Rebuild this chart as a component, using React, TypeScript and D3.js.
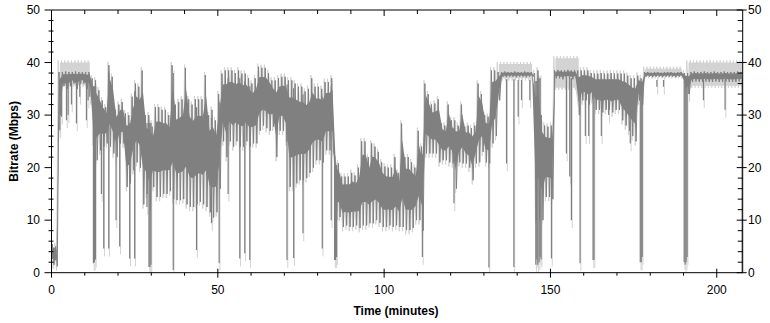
import React from 'react';
import * as d3 from 'd3';

// Per-minute envelope of the dark (average) bitrate trace, Mbps
const darkHi = [
  5.5, 5.0, 38.2, 38.2, 38.3, 38.2, 38.2, 38.3, 38.2, 38.2,
  38.2, 38.2, 37, 36.6, 34.7, 32.8, 31.5, 39.5, 37.3, 31,
  32, 32.5, 30.3, 30, 33.5, 36, 35.4, 38.5, 30, 30,
  27.8, 31.5, 31.5, 31, 31, 30, 39.5, 32, 32.5, 33,
  39, 33, 32, 33, 33, 33, 37.6, 30, 31, 29,
  34, 37.9, 38.5, 38.5, 38.5, 38, 38.5, 37.9, 37.9, 37,
  36, 37, 39.2, 39, 39, 38, 36.6, 36.6, 37, 37.3,
  37.3, 36.6, 36.6, 36, 35.4, 35.4, 34.5, 35, 37, 35.4,
  35.4, 35, 36.3, 36.3, 37, 22, 20.8, 18.3, 18.3, 18.3,
  19, 18.5, 20, 25, 25, 22, 24.6, 24, 23, 21,
  20.2, 20, 20, 22, 19, 28.4, 22, 22, 21, 20,
  27, 24, 36, 34, 32, 32.2, 33, 28.4, 28, 32,
  29, 29, 28, 32, 27.8, 28, 27.5, 28, 36, 34,
  30, 29.7, 38.5, 38.5, 38.2, 38.2, 38.3, 38.2, 38.2, 38.3,
  38.2, 38.2, 38.3, 38.2, 38.2, 38, 38.5, 30, 28, 27.8,
  28, 38.5, 38.6, 38.5, 38.5, 38.6, 38.5, 38.5, 38.5, 38.5,
  38.5, 38.5, 38, 37.9, 37.9, 38, 37.9, 37.9, 38, 37.9,
  37.9, 37.9, 37.9, 37.5, 37, 37, 37.5, 37, 38.2, 38.2,
  38.1, 38.2, 38.2, 38.1, 38.2, 38.2, 38.2, 38.1, 38.2, 38.2,
  38, 38, 38.2, 38.3, 38.2, 38.2, 38.3, 38.2, 38.2, 38.3,
  38.2, 38.2, 38.3, 38.2, 38.2, 38.2, 38.3, 38.2,
];
const darkLo = [
  1.5, 1.2, 30, 35.5, 35, 35.5, 36, 35, 36, 36,
  35, 35.5, 25, 21.4, 23.3, 24, 24.6, 24, 22.7, 22,
  24.6, 24.6, 16.3, 17, 19.5, 21, 20, 13, 15, 12,
  16.3, 14.4, 14.4, 15, 15, 15.5, 14, 13.8, 13.8, 14,
  13, 12.5, 12.5, 13, 13.5, 13, 12.5, 11.5, 10.5, 11.5,
  16, 25, 22, 25, 24, 25, 24, 24, 25, 24,
  24.6, 24.6, 27, 28, 27.5, 27, 27.8, 22, 27, 27,
  25, 16.3, 16.3, 17, 17.6, 17.6, 18, 19, 20, 21.4,
  21.4, 21, 23.3, 23.3, 23, 10, 10.6, 8.7, 9, 8.7,
  8.7, 9, 8.5, 9, 9, 9.4, 9.4, 10, 9.5, 8.7,
  8.7, 9, 8.7, 9, 8.7, 8.7, 8.1, 8.1, 8.5, 10,
  10, 8, 22.7, 22.7, 22.7, 22.7, 21, 21.4, 21.4, 21,
  20.8, 16, 21, 20.8, 20.8, 20, 17.6, 20.8, 21, 23,
  21, 20.8, 24.6, 26, 32.8, 37.3, 37.2, 37.3, 37.3, 37.2,
  37.3, 37.3, 37.2, 37.3, 37.3, 10, 10, 10, 14.4, 14.4,
  14, 37, 37, 36.8, 37, 37, 36.8, 37, 30, 32.8,
  32.8, 32, 33, 31, 31, 30.5, 31, 31, 30.5, 31,
  31, 29, 28, 27, 26, 25, 32.8, 32, 37.3, 37.3,
  37.2, 37.3, 37.3, 37.2, 37.3, 37.3, 37.3, 37.2, 37.3, 37.3,
  35, 34, 36.3, 36.4, 36.3, 36.3, 36.4, 36.3, 36.3, 36.4,
  36.3, 36.3, 36.4, 36.3, 36.3, 36.3, 36.4, 36.3,
];

// Narrow dropouts (minute, Mbps)
const dipTimes = [
  2.5, 3.0, 4.5, 5.0, 6.0, 7.5, 8.5, 10.5, 11.0, 11.5,
  12.6, 12.9, 13.2, 15.0, 15.7, 17.2, 19.4, 20.5, 23.5, 25.0,
  28.7, 29.3, 29.6, 29.9, 36.6, 43.6, 48.1, 50.4, 53.1, 56.6,
  58.1, 59.6, 70.8, 72.8, 75.6, 81.4, 84.1, 85.1, 85.4, 85.7,
  111.5, 121.0, 131.5, 136.8, 139.0, 140.3, 141.3, 143.8, 145.6, 145.9,
  146.2, 146.6, 146.9, 147.2, 150.3, 154.8, 155.8, 156.3, 158.9, 160.5,
  161.5, 162.8, 163.1, 165.3, 167.5, 174.0, 177.0, 177.3, 177.6, 182.0,
  184.0, 190.2, 190.5, 190.8, 191.1, 191.6, 196.0, 202.5, 207.6,
];
const dipValues = [
  27.1, 29.7, 29, 30, 32, 28.4, 33.5, 29, 32.8, 33.5,
  1.8, 2, 2.5, 15, 4.6, 4.6, 10, 5, 2.7, 2.7,
  12.5, 1.1, 1.1, 1.5, 0.5, 4.3, 9.4, 1.8, 15, 2.7,
  3.7, 2.4, 2.4, 2.8, 7.5, 4.6, 10, 2.4, 2.4, 3,
  3, 13.2, 1, 20.8, 1.1, 29.7, 32.8, 32.8, 1.5, 2.5,
  1.5, 2, 3, 2.5, 2.7, 22.7, 18.3, 10, 1.8, 26,
  26, 2.4, 2.4, 26, 30, 24.6, 2, 2, 3, 35.4,
  35.4, 2, 1.5, 2, 3, 34, 32.8, 31, 0,
];

// Plateaus where the light (peak) trace forms a wide band
const plateauStart = [2.3, 134, 151, 178, 191.4];
const plateauEnd = [12, 145.3, 158.8, 190, 207.6];
const plateauLightHi = [40.4, 40.1, 41.2, 39.2, 40.4];
const plateauLightLo = [35.4, 36.6, 34.8, 37, 35.2];

const xTicks = [0, 50, 100, 150, 200];
const yTicks = [0, 10, 20, 30, 40, 50];

const W = 770, H = 323;
const L = 51.5, R = 742.7, T = 10, B = 272.7;
const FONT = '"Liberation Sans", Arial, sans-serif';
const DARK = '#808080';
const LIGHT = '#d3d3d3';

export default function App() {
  const x = d3.scaleLinear().domain([0, 207.8]).range([L, R]);
  const y = d3.scaleLinear().domain([0, 50]).range([B, T]);
  const n = Math.min(darkHi.length, darkLo.length);

  type Pt = { t: number; hi: number; lo: number; lhi: number; llo: number; plat: boolean };
  const pts: Pt[] = [];
  for (let i = 0; i < n; i++) {
    const t = i + 0.5;
    let lhi = darkHi[i] + 0.6, llo = Math.max(0, darkLo[i] - 0.8), plat = false;
    for (let p = 0; p < plateauStart.length; p++) {
      if (t >= plateauStart[p] && t <= plateauEnd[p]) {
        lhi = Math.max(plateauLightHi[p], darkHi[i]);
        llo = Math.min(plateauLightLo[p], darkLo[i]);
        plat = true;
      }
    }
    pts.push({ t, hi: darkHi[i], lo: darkLo[i], lhi, llo, plat });
  }
  const ext: Pt[] = pts.length ? [{ ...pts[0], t: 0.05 }, ...pts, { ...pts[pts.length - 1], t: 207.6 }] : [];

  // solid core of the dark trace (inner part of the envelope)
  const core = d3.area<Pt>()
    .x(d => x(d.t))
    .y0(d => y(d.lo + 0.28 * (d.hi - d.lo)))
    .y1(d => y(d.hi - 0.16 * (d.hi - d.lo)))(ext) || '';
  // plateau light band
  const lightBand = d3.area<Pt>()
    .defined(d => d.plat)
    .x(d => x(d.t))
    .y0(d => y(d.llo + 0.4))
    .y1(d => y(d.lhi - 0.4))(ext) || '';

  // jagged envelopes: alternate between the envelope extremes
  const zig = (hiK: 'hi' | 'lhi', loK: 'lo' | 'llo', o1: number, o2: number) => {
    const arr: [number, number][] = [];
    pts.forEach((d, i) => {
      arr.push([x(i + o1), y(d[hiK])]);
      arr.push([x(i + o2), y(d[loK])]);
    });
    return d3.line()(arr) || '';
  };
  const darkZig = zig('hi', 'lo', 0.25, 0.75);
  const lightZig = zig('lhi', 'llo', 0.0, 0.5);

  const bucketHi = (t: number) => darkHi[Math.max(0, Math.min(n - 1, Math.floor(t)))];

  const yMinor = d3.range(0, 51, 2);
  const xMinor = d3.range(0, 208, 10);

  return (
    <div style={{ position: 'absolute', left: 0, top: 0 }}>
      <svg width={W} height={H} style={{ display: 'block', background: '#fff' }}>
        <defs>
          <clipPath id="plot">
            <rect x={L} y={T} width={R - L} height={B - T} />
          </clipPath>
        </defs>
        <g clipPath="url(#plot)">
          <path d={lightBand} fill={LIGHT} />
          <path d={lightZig} fill="none" stroke={LIGHT} strokeWidth={1} />
          {dipTimes.map((t, i) => (
            <line key={'ld' + i} x1={x(t) + 0.8} x2={x(t) + 0.8} y1={y(bucketHi(t) - 1)} y2={y(Math.max(0, dipValues[i] - 1.5))}
              stroke={LIGHT} strokeWidth={1} />
          ))}
          <path d={darkZig} fill="none" stroke={DARK} strokeWidth={1} />
          <path d={core} fill={DARK} />
          {dipTimes.map((t, i) => (
            <line key={'dd' + i} x1={x(t)} x2={x(t)} y1={y(bucketHi(t) - 1.5)} y2={y(dipValues[i])}
              stroke={DARK} strokeWidth={1.2} />
          ))}
        </g>
        <line x1={L} x2={L} y1={T} y2={B} stroke="#000" />
        <line x1={R} x2={R} y1={T} y2={B} stroke="#000" />
        <line x1={L} x2={R} y1={B} y2={B} stroke="#000" />
        <line x1={L} x2={R} y1={T} y2={T} stroke="#000" />
        {yMinor.map(v => {
          const major = v % 10 === 0;
          return (
            <g key={'yt' + v}>
              <line x1={major ? L - 7 : L - 3} x2={major ? L : L + 2} y1={y(v)} y2={y(v)} stroke="#000" />
              <line x1={major ? R - 6 : R - 5} x2={major ? R + 4 : R} y1={y(v)} y2={y(v)} stroke="#000" />
            </g>
          );
        })}
        {yTicks.map(v => (
          <g key={'yl' + v} fontFamily={FONT} fontSize={12} fill="#000">
            <text x={40} y={y(v)} dy="0.35em" textAnchor="end">{v}</text>
            <text x={748} y={y(v)} dy="0.35em" textAnchor="start">{v}</text>
          </g>
        ))}
        {xMinor.map(v => {
          const major = v % 50 === 0;
          return (
            <g key={'xt' + v}>
              <line x1={x(v)} x2={x(v)} y1={major ? B - 4 : B} y2={major ? B + 5 : B + 3} stroke="#000" />
              <line x1={x(v)} x2={x(v)} y1={T} y2={major ? T + 6 : T + 4} stroke="#000" />
            </g>
          );
        })}
        {xTicks.map(v => (
          <text key={'xl' + v} x={x(v)} y={294} textAnchor="middle" fontFamily={FONT} fontSize={12} fill="#000">{v}</text>
        ))}
        <text x={396} y={315} textAnchor="middle" fontFamily={FONT} fontSize={12} fontWeight="bold" fill="#000">Time (minutes)</text>
        <text transform={`translate(18,${(T + B) / 2}) rotate(-90)`} textAnchor="middle" fontFamily={FONT} fontSize={12} fontWeight="bold" fill="#000">Bitrate (Mbps)</text>
      </svg>
    </div>
  );
}
